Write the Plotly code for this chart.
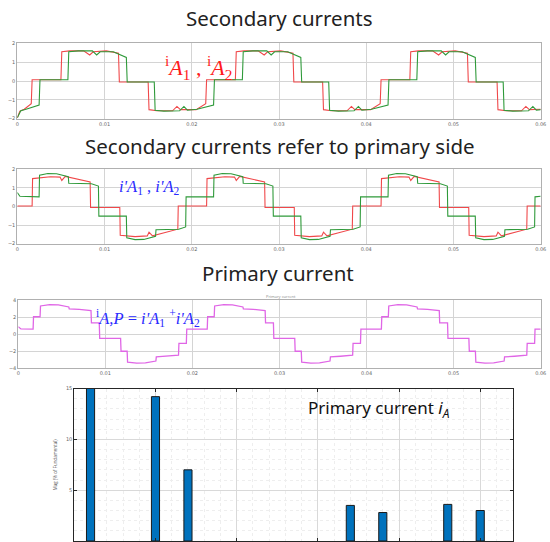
import plotly.graph_objects as go

# ---------------- data (time in ms) ----------------
TIME_TICKS = [0, 10, 20, 30, 40, 50, 60]
TIME_TICK_TEXT = ["0", "0.01", "0.02", "0.03", "0.04", "0.05", "0.06"]

# Panel 1: secondary currents
sec_a1_t = [0, 0.3, 0.8, 1.6, 1.7, 5.0, 5.1, 6.0, 7.6, 8.3, 8.7, 10.2, 11.6, 11.7, 15.0, 15.1, 16.0, 17.8, 18.3, 18.7, 20.5,
            21.6, 21.7, 25.0, 25.1, 26.0, 27.6, 28.3, 28.7, 30.2, 31.6, 31.7, 35.0, 35.1, 36.0, 37.8, 38.3, 38.7, 40.5,
            41.6, 41.7, 45.0, 45.1, 46.0, 47.6, 48.3, 48.7, 50.2, 51.6, 51.7, 55.0, 55.1, 56.0, 57.8, 58.3, 58.7, 60.0]
sec_a1_v = [-1.95, -1.6, -1.5, -1.2, 0.07, 0.07, 1.55, 1.6, 1.6, 1.38, 1.55, 1.6, 1.48, -0.05, -0.05, -1.52, -1.58, -1.58, -1.35, -1.52, -1.52,
            -1.2, 0.07, 0.07, 1.55, 1.6, 1.6, 1.38, 1.55, 1.6, 1.48, -0.05, -0.05, -1.52, -1.58, -1.58, -1.35, -1.52, -1.52,
            -1.2, 0.07, 0.07, 1.55, 1.6, 1.6, 1.38, 1.55, 1.6, 1.48, -0.05, -0.05, -1.52, -1.58, -1.58, -1.35, -1.52, -1.5]

sec_a2_t = [0, 0.4, 1.0, 2.5, 2.6, 5.8, 5.9, 7.0, 8.6, 9.1, 9.5, 11.0, 12.5, 12.6, 15.7, 15.8, 16.8, 18.6, 19.1, 19.5, 20.6,
            22.5, 22.6, 25.8, 25.9, 27.0, 28.6, 29.1, 29.5, 31.0, 32.5, 32.6, 35.7, 35.8, 36.8, 38.6, 39.1, 39.5, 40.6,
            42.5, 42.6, 45.8, 45.9, 47.0, 48.6, 49.1, 49.5, 51.0, 52.5, 52.6, 55.7, 55.8, 56.8, 58.6, 59.1, 59.5, 60.0]
sec_a2_v = [-1.95, -1.58, -1.5, -1.28, 0.07, 0.07, 1.55, 1.6, 1.6, 1.38, 1.55, 1.55, 1.25, -0.05, -0.05, -1.55, -1.6, -1.58, -1.35, -1.55, -1.5,
            -1.28, 0.07, 0.07, 1.55, 1.6, 1.6, 1.38, 1.55, 1.55, 1.25, -0.05, -0.05, -1.55, -1.6, -1.58, -1.35, -1.55, -1.5,
            -1.28, 0.07, 0.07, 1.55, 1.6, 1.6, 1.38, 1.55, 1.55, 1.25, -0.05, -0.05, -1.55, -1.6, -1.58, -1.35, -1.55, -1.52]

# Panel 2: secondary currents referred to primary side
ref_a1_t = [0, 1.7, 1.75, 3.8, 4.9, 5.1, 5.5, 8.35, 8.4, 11.75, 11.8, 13.5, 14.9, 15.1, 15.5, 18.4, 18.45,
            21.7, 21.75, 23.8, 24.9, 25.1, 25.5, 28.35, 28.4, 31.75, 31.8, 33.5, 34.9, 35.1, 35.5, 38.4, 38.45,
            41.7, 41.75, 43.8, 44.9, 45.1, 45.5, 48.35, 48.4, 51.75, 51.8, 53.5, 54.9, 55.1, 55.5, 58.4, 58.45, 60.0]
ref_a1_v = [0.03, 0.03, 1.5, 1.6, 1.58, 1.4, 1.62, 1.32, -0.05, -0.05, -1.55, -1.62, -1.58, -1.38, -1.58, -1.22, 0.03,
            0.03, 1.5, 1.6, 1.58, 1.4, 1.62, 1.32, -0.05, -0.05, -1.55, -1.62, -1.58, -1.38, -1.58, -1.22, 0.03,
            0.03, 1.5, 1.6, 1.58, 1.4, 1.62, 1.32, -0.05, -0.05, -1.55, -1.62, -1.58, -1.38, -1.58, -1.22, 0.03, 0.03]

ref_a2_t = [0, 0.3, 2.5, 2.55, 3.5, 4.5, 5.85, 5.9, 8.5, 9.3, 9.35, 12.5, 12.55, 13.5, 14.5, 15.85, 15.9, 18.5, 19.3, 19.35,
            22.5, 22.55, 23.5, 24.5, 25.85, 25.9, 28.5, 29.3, 29.35, 32.5, 32.55, 33.5, 34.5, 35.85, 35.9, 38.5, 39.3, 39.35,
            42.5, 42.55, 43.5, 44.5, 45.85, 45.9, 48.5, 49.3, 49.35, 52.5, 52.55, 53.5, 54.5, 55.85, 55.9, 58.5, 59.3, 59.35, 60.0]
ref_a2_v = [0.75, 0.55, 0.52, 1.68, 1.77, 1.76, 1.6, 1.25, 1.22, 1.1, -0.52, -0.52, -1.68, -1.78, -1.77, -1.6, -1.25, -1.22, -1.1, 0.52,
            0.52, 1.68, 1.77, 1.76, 1.6, 1.25, 1.22, 1.1, -0.52, -0.52, -1.68, -1.78, -1.77, -1.6, -1.25, -1.22, -1.1, 0.52,
            0.52, 1.68, 1.77, 1.76, 1.6, 1.25, 1.22, 1.1, -0.52, -0.52, -1.68, -1.78, -1.77, -1.6, -1.25, -1.22, -1.1, 0.52, 0.55]

# Panel 3: primary current
prim_t = [0, 0.3, 1.7, 1.75, 2.5, 2.55, 3.6, 4.6, 5.8, 5.85, 7.0, 8.35, 8.4, 9.3, 9.35, 11.75, 11.8, 12.5, 12.55, 13.6, 14.6, 15.8, 15.85, 17.0, 18.4, 18.45, 19.3, 19.35,
          21.7, 21.75, 22.5, 22.55, 23.6, 24.6, 25.8, 25.85, 27.0, 28.35, 28.4, 29.3, 29.35, 31.75, 31.8, 32.5, 32.55, 33.6, 34.6, 35.8, 35.85, 37.0, 38.4, 38.45, 39.3, 39.35,
          41.7, 41.75, 42.5, 42.55, 43.6, 44.6, 45.8, 45.85, 47.0, 48.35, 48.4, 49.3, 49.35, 51.75, 51.8, 52.5, 52.55, 53.6, 54.6, 55.8, 55.85, 57.0, 58.4, 58.45, 59.3, 59.35, 60.0]
prim_v = [0.86, 0.6, 0.58, 2.03, 2.03, 3.3, 3.45, 3.42, 3.18, 2.95, 2.9, 2.75, 1.3, 1.3, -0.52, -0.52, -2.03, -2.03, -3.3, -3.42, -3.4, -3.18, -2.7, -2.62, -2.5, -1.1, -1.1, 0.58,
          0.58, 2.03, 2.03, 3.3, 3.45, 3.42, 3.18, 2.95, 2.9, 2.75, 1.3, 1.3, -0.52, -0.52, -2.03, -2.03, -3.3, -3.42, -3.4, -3.18, -2.7, -2.62, -2.5, -1.1, -1.1, 0.58,
          0.58, 2.03, 2.03, 3.3, 3.45, 3.42, 3.18, 2.95, 2.9, 2.75, 1.3, 1.3, -0.52, -0.52, -2.03, -2.03, -3.3, -3.42, -3.4, -3.18, -2.7, -2.62, -2.5, -1.1, -1.1, 0.58, 0.58]

# Panel 4: harmonic spectrum of primary current
harm_order = [1, 5, 7, 17, 19, 23, 25]
harm_mag = [100, 14.2, 7.0, 3.5, 2.8, 3.6, 3.0]
mag_ticks = [0, 5, 10, 15]

RED = "#f0484a"
GREEN = "#2f9a3a"
MAGENTA = "#e066e6"

fig = go.Figure()
fig.add_trace(go.Scatter(x=sec_a1_t, y=sec_a1_v, mode="lines", line=dict(color=RED, width=1.1), xaxis="x", yaxis="y"))
fig.add_trace(go.Scatter(x=sec_a2_t, y=sec_a2_v, mode="lines", line=dict(color=GREEN, width=1.1), xaxis="x", yaxis="y"))
fig.add_trace(go.Scatter(x=ref_a1_t, y=ref_a1_v, mode="lines", line=dict(color=RED, width=1.1), xaxis="x2", yaxis="y2"))
fig.add_trace(go.Scatter(x=ref_a2_t, y=ref_a2_v, mode="lines", line=dict(color=GREEN, width=1.1), xaxis="x2", yaxis="y2"))
fig.add_trace(go.Scatter(x=prim_t, y=prim_v, mode="lines", line=dict(color=MAGENTA, width=1.3), xaxis="x3", yaxis="y3"))
fig.add_trace(go.Bar(x=harm_order, y=harm_mag, width=0.5,
                     marker=dict(color="#0072BD", line=dict(color="#1a1a1a", width=1)),
                     xaxis="x4", yaxis="y4"))

W, H = 550, 542
def px_x(a, b):
    return [a / W, b / W]
def px_y(top, bottom):
    return [1 - bottom / H, 1 - top / H]

tickfont = dict(size=5, color="#666666", family="DejaVu Sans")
common_x = dict(range=[0, 60], tickvals=TIME_TICKS, ticktext=TIME_TICK_TEXT, tickfont=tickfont,
                showgrid=True, gridcolor="#d4d4d4", gridwidth=1, zeroline=False, automargin=False,
                showline=True, linecolor="#b0b0b0", mirror=True, ticks="", ticklen=0)
common_y = dict(showgrid=True, gridcolor="#d4d4d4", gridwidth=1, zeroline=False, tickfont=tickfont,
                automargin=False, showline=True, linecolor="#b0b0b0", mirror=True, ticks="", ticklen=0)

fig.update_layout(
    template="none",
    width=W, height=H, margin=dict(l=0, r=0, t=0, b=0, pad=0),
    paper_bgcolor="white", plot_bgcolor="white", showlegend=False,
    xaxis=dict(domain=px_x(17.3, 540.7), anchor="y", **common_x),
    yaxis=dict(domain=px_y(43.3, 118.7), anchor="x", range=[-2, 2], tickvals=[-2, -1, 0, 1, 2], **common_y),
    xaxis2=dict(domain=px_x(17.3, 540.7), anchor="y2", **common_x),
    yaxis2=dict(domain=px_y(169.3, 243.7), anchor="x2", range=[-2, 2], tickvals=[-2, -1, 0, 1, 2], **common_y),
    xaxis3=dict(domain=px_x(18.3, 540.7), anchor="y3", **common_x),
    yaxis3=dict(domain=px_y(300, 368), anchor="x3", range=[-4, 4], tickvals=[-4, -2, 0, 2, 4], **common_y),
    xaxis4=dict(domain=px_x(74.3, 512.7), anchor="y4", range=[0, 27], dtick=5, showticklabels=False,
                automargin=False,
                showgrid=True, gridcolor="#d9d9d9", zeroline=False, showline=True, linecolor="#262626",
                mirror="ticks", ticks="inside", ticklen=3, tickcolor="#262626",
                minor=dict(dtick=1, showgrid=True, gridcolor="#eeeeee", griddash="dot")),
    yaxis4=dict(domain=px_y(388.5, 541), anchor="x4", range=[0, 15], tickvals=mag_ticks,
                automargin=False,
                tickfont=tickfont, showgrid=True, gridcolor="#d9d9d9", zeroline=False,
                showline=True, linecolor="#262626", mirror="ticks", ticks="inside", ticklen=3,
                tickcolor="#262626",
                minor=dict(dtick=1, showgrid=True, gridcolor="#eeeeee", griddash="dot"),
                title=dict(text="Mag (% of Fundamental)", font=dict(size=4.5, color="#555555"), standoff=8)),
)

title_font = dict(family="Noto Sans", size=20.5, color="#222222")
annotations = [
    dict(text="Secondary currents", x=279 / W, y=1 - 18 / H),
    dict(text="Secondary currents refer to primary side", x=280 / W, y=1 - 146 / H),
    dict(text="Primary current", x=278 / W, y=1 - 273 / H),
]
for a in annotations:
    fig.add_annotation(xref="paper", yref="paper", xanchor="center", yanchor="middle",
                       showarrow=False, font=title_font, **a)

fig.add_annotation(xref="paper", yref="paper", x=281 / W, y=1 - 296 / H, text="Primary current",
                   showarrow=False, font=dict(size=4, color="#888888"), xanchor="center", yanchor="middle")

serif = "Liberation Serif"
fig.add_annotation(xref="paper", yref="paper", x=198 / W, y=1 - 67 / H, showarrow=False,
                   xanchor="center", yanchor="middle",
                   text="<sup>i</sup><i>A</i><sub>1</sub> , <sup>i</sup><i>A</i><sub>2</sub>",
                   font=dict(family=serif, size=22, color="#ff1a1a"))
fig.add_annotation(xref="paper", yref="paper", x=149 / W, y=1 - 187 / H, showarrow=False,
                   xanchor="center", yanchor="middle",
                   text="<i>i'A</i><sub>1</sub> , <i>i'A</i><sub>2</sub>",
                   font=dict(family=serif, size=16.5, color="#2a2aff"))
fig.add_annotation(xref="paper", yref="paper", x=148 / W, y=1 - 318 / H, showarrow=False,
                   xanchor="center", yanchor="middle",
                   text="<sup>i</sup><i>A,P</i> = <i>i'A</i><sub>1</sub> <sup>+</sup><i>i'A</i><sub>2</sub>",
                   font=dict(family=serif, size=16.5, color="#2a2aff"))
fig.add_annotation(xref="paper", yref="paper", x=306 / W, y=1 - 408 / H, showarrow=False,
                   xanchor="left", yanchor="middle",
                   text="Primary current <i>i</i><sub><i>A</i></sub>",
                   font=dict(family="Noto Sans", size=17, color="#111111"))

fig.write_html("out.html", config={"displayModeBar": False},
               post_script="document.body.style.margin='0';document.body.style.padding='0';")
